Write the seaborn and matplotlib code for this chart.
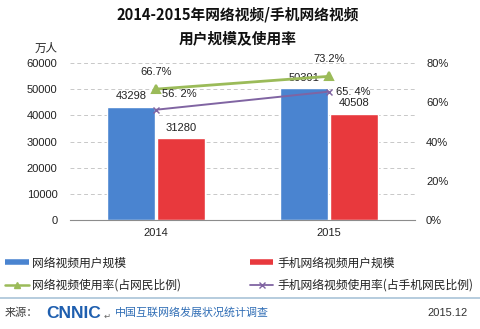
import matplotlib
matplotlib.use("Agg")
import matplotlib.pyplot as plt
from matplotlib.lines import Line2D
import seaborn as sns
import pandas as pd

years = ["2014", "2015"]
video_users = [43298, 50391]
mobile_video_users = [31280, 40508]
video_rate = [66.7, 73.2]
mobile_video_rate = [56.2, 65.4]
rate_labels_video = ["66.7%", "73.2%"]
rate_labels_mobile = ["56. 2%", "65. 4%"]
series_bar = ["网络视频用户规模", "手机网络视频用户规模"]
series_line = ["网络视频使用率(占网民比例)", "手机网络视频使用率(占手机网民比例)"]
title_lines = ["2014-2015年网络视频/手机网络视频", "用户规模及使用率"]

BLUE = "#4A84D0"
RED = "#E8393D"
GREEN = "#9BBB59"
PURPLE = "#8064A2"

sns.set_theme(style="white")
plt.rcParams["font.family"] = ["Liberation Sans", "Noto Sans CJK SC", "DejaVu Sans"]

fig = plt.figure(figsize=(4.8, 3.29), dpi=100)
ax = fig.add_axes([70/480, 1-220/329, 345/480, 157/329])

df = pd.DataFrame({
    "year": years * 2,
    "value": video_users + mobile_video_users,
    "series": [series_bar[0]] * 2 + [series_bar[1]] * 2,
})
sns.barplot(data=df, x="year", y="value", hue="series", palette=[BLUE, RED],
            width=0.58, gap=0.04, ax=ax, legend=False, saturation=1)
for cont in ax.containers:
    ax.bar_label(cont, labels=[f"{int(v)}" for v in cont.datavalues],
                 padding=4, fontsize=8, color="#222222")

ax.set_xlim(-0.5, 1.5)
ax.set_ylim(0, 60000)
ax.set_yticks(range(0, 60001, 10000))
ax.set_yticklabels([str(v) for v in range(0, 60001, 10000)])
ax.set_xlabel("")
ax.set_ylabel("")
ax.yaxis.grid(True, color="#C8C8C8", linestyle=(0, (4, 3)), linewidth=0.7)
ax.set_axisbelow(True)
for s in ["left", "right", "top"]:
    ax.spines[s].set_visible(False)
ax.spines["bottom"].set_color("#8C8C8C")
ax.spines["bottom"].set_linewidth(0.8)
ax.tick_params(axis="y", length=0, pad=9, labelsize=8, labelcolor="#222222")
ax.tick_params(axis="x", length=0, pad=6, labelsize=8, labelcolor="#222222")

ax2 = ax.twinx()
ldf = pd.DataFrame({
    "year": years * 2,
    "rate": video_rate + mobile_video_rate,
    "series": [series_line[0]] * 2 + [series_line[1]] * 2,
})
sns.pointplot(data=ldf[ldf.series == series_line[0]], x="year", y="rate",
              color=GREEN, markers="^", linestyles="-", ax=ax2,
              markersize=6, linewidth=2.0)
sns.pointplot(data=ldf[ldf.series == series_line[1]], x="year", y="rate",
              color=PURPLE, markers="x", linestyles="-", ax=ax2,
              markersize=5, linewidth=1.4)
ax2.set_xlim(-0.5, 1.5)
ax2.set_ylim(0, 80)
ax2.set_yticks(range(0, 81, 20))
ax2.set_yticklabels([f"{v}%" for v in range(0, 81, 20)])
ax2.set_ylabel("")
ax2.set_xlabel("")
for s in ["left", "right", "top", "bottom"]:
    ax2.spines[s].set_visible(False)
ax2.tick_params(axis="y", length=0, pad=8, labelsize=8, labelcolor="#222222")
ax2.grid(False)

for i, (v, lab) in enumerate(zip(video_rate, rate_labels_video)):
    ax2.annotate(lab, xy=(i, v), xytext=(0, 12.5), textcoords="offset points",
                 ha="center", va="center", fontsize=8, color="#222222")
for i, (v, lab) in enumerate(zip(mobile_video_rate, rate_labels_mobile)):
    off = (4, 11) if i == 0 else (5, 0)
    ax2.annotate(lab, xy=(i, v), xytext=off, textcoords="offset points",
                 ha="left", va="center", fontsize=8, color="#222222")

fig.text(46/480, 1-48/329, "万人", ha="center", va="center", fontsize=8.3,
         color="#222222", family=["Noto Sans CJK SC"])
fig.text(238/480, 1-14/329, title_lines[0], ha="center", va="center",
         fontsize=10.6, fontweight="bold", family=["Noto Sans CJK SC"], color="#111111")
fig.text(238/480, 1-38/329, title_lines[1], ha="center", va="center",
         fontsize=10.6, fontweight="bold", family=["Noto Sans CJK SC"], color="#111111")

handles = [
    Line2D([], [], color=BLUE, linewidth=4, solid_capstyle="butt"),
    Line2D([], [], color=GREEN, linewidth=1.8, marker="^", markersize=5),
    Line2D([], [], color=RED, linewidth=4, solid_capstyle="butt"),
    Line2D([], [], color=PURPLE, linewidth=1.3, marker="x", markersize=5),
]
labels = [series_bar[0], series_line[0], series_bar[1], series_line[1]]
leg = fig.legend(handles, labels, ncol=2, loc="lower left",
                 bbox_to_anchor=(5/480, 1-292/329, 468/480, 46/329), mode="expand",
                 frameon=False, handlelength=2.0, handletextpad=0.3,
                 labelspacing=0.8, borderaxespad=0, borderpad=0,
                 prop={"family": ["Noto Sans CJK SC"], "size": 8.5})
for t in leg.get_texts():
    t.set_color("#222222")

fig.add_artist(Line2D([0, 1], [1-298/329, 1-298/329], transform=fig.transFigure,
                      color="#A9C4D8", linewidth=1.2))
fig.text(5/480, 1-313/329, "来源：", ha="left", va="center", fontsize=8,
         color="#404040", family=["Noto Sans CJK SC"])
fig.text(46/480, 1-313/329, "CNNIC", ha="left", va="center", fontsize=12.5,
         fontweight="bold", color="#1F5FAF", family=["Liberation Sans"])
fig.text(104/480, 1-316/329, "↵", ha="left", va="center", fontsize=6,
         color="#666666", family=["DejaVu Sans"])
fig.text(115/480, 1-313/329, "中国互联网络发展状况统计调查", ha="left", va="center",
         fontsize=7.9, color="#2F6DB5", family=["Noto Sans CJK SC"])
fig.text(468/480, 1-313/329, "2015.12", ha="right", va="center", fontsize=8,
         color="#333333")

fig.savefig("out.png", dpi=100)
